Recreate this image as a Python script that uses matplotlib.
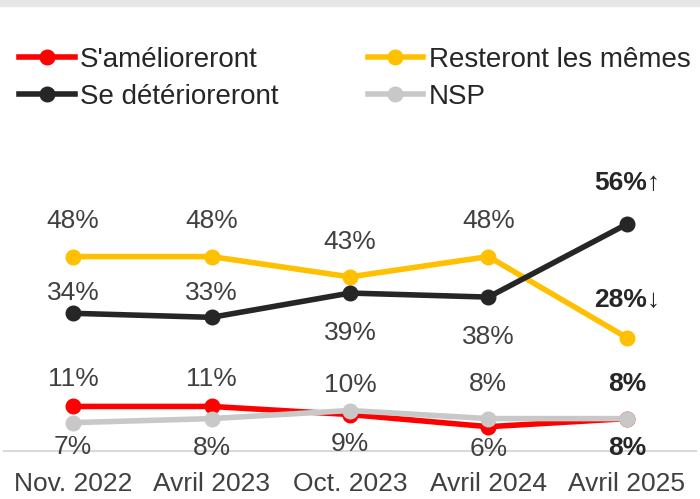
import matplotlib
matplotlib.use("Agg")
import matplotlib.pyplot as plt
from matplotlib.lines import Line2D
from matplotlib.patches import Rectangle

plt.rcParams['font.family'] = ['Liberation Sans', 'DejaVu Sans']

categories = ["Nov. 2022", "Avril 2023", "Oct. 2023", "Avril 2024", "Avril 2025"]
ameliorer = [11, 11, 9, 6, 8]
memes = [48, 48, 43, 48, 28]
deteriorer = [34, 33, 39, 38, 56]
nsp = [7, 8, 10, 8, 8]

names = ["S'amélioreront", "Resteront les mêmes", "Se détérioreront", "NSP"]
colors = {"red": "#FF0000", "yellow": "#FFC000", "black": "#262626", "gray": "#C8C8C8"}

# label offsets in pixels (positive = above point)
off_memes = [36, 36, 35, 36, 38]
off_det = [20, 24, -40, -40, 41]
off_ame = [27, 27, -29, -22, -29]
off_nsp = [-24, -29, 25, 35, 35]
suf_memes = ["", "", "", "", "↓"]
suf_det = ["", "", "", "", "↑"]

W, H = 700, 499
fig = plt.figure(figsize=(W / 100, H / 100), dpi=100)
fig.patches.append(Rectangle((0, 1 - 6 / H), 1, 6 / H, transform=fig.transFigure,
                             color="#E6E6E6", zorder=0))

ax_left, ax_right = 4 / W, 696 / W
ax_bottom = (H - 451) / H
ppu = 4.05
ax_h = 60 * ppu / H
ax = fig.add_axes([ax_left, ax_bottom, ax_right - ax_left, ax_h])
ax.set_xlim(-0.5, 4.5)
ax.set_ylim(0, 60)
ax.patch.set_alpha(0)

x = list(range(len(categories)))
lw = 4.0
ms = 10.5
fs = 19
lfs = 20
series = [
    (memes, colors["yellow"], off_memes, suf_memes, 2),
    (deteriorer, colors["black"], off_det, suf_det, 3),
    (ameliorer, colors["red"], off_ame, [""] * 5, 4),
    (nsp, colors["gray"], off_nsp, [""] * 5, 5),
]
for vals, c, offs, sufs, z in series:
    ax.plot(x, vals, color=c, lw=lw, marker="o", ms=ms, zorder=z, clip_on=False,
            solid_capstyle="round")
    for i, (v, o, s) in enumerate(zip(vals, offs, sufs)):
        last = i == len(vals) - 1
        ax.annotate(f"{v}%{s}", (i, v), xytext=(0, o * 0.72), textcoords="offset points",
                    ha="center", va="center", fontsize=fs,
                    fontweight="bold" if last else "normal",
                    color="#262626" if last else "#404040",
                    family=['Liberation Sans', 'DejaVu Sans'])

for side in ["top", "left", "right"]:
    ax.spines[side].set_visible(False)
ax.spines["bottom"].set_color("#D9D9D9")
ax.spines["bottom"].set_linewidth(1.5)
ax.set_yticks([])
ax.set_xticks(x)
ax.set_xticklabels(categories, fontsize=fs, color="#404040")
ax.tick_params(axis="x", length=0, pad=15)

handles = [
    Line2D([], [], color=colors["red"], lw=lw, marker="o", ms=ms),
    Line2D([], [], color=colors["black"], lw=lw, marker="o", ms=ms),
    Line2D([], [], color=colors["yellow"], lw=lw, marker="o", ms=ms),
    Line2D([], [], color=colors["gray"], lw=lw, marker="o", ms=ms),
]
labels = [names[0], names[2], names[1], names[3]]
fig.legend(handles, labels, ncol=2, loc="upper left", bbox_to_anchor=(19 / W, 1 - 47 / H),
           frameon=False, fontsize=lfs, handlelength=2.0, handletextpad=0.2,
           columnspacing=3.2, labelspacing=0.38, borderpad=0, borderaxespad=0,
           labelcolor="#262626")

fig.savefig("out.png", dpi=100)
